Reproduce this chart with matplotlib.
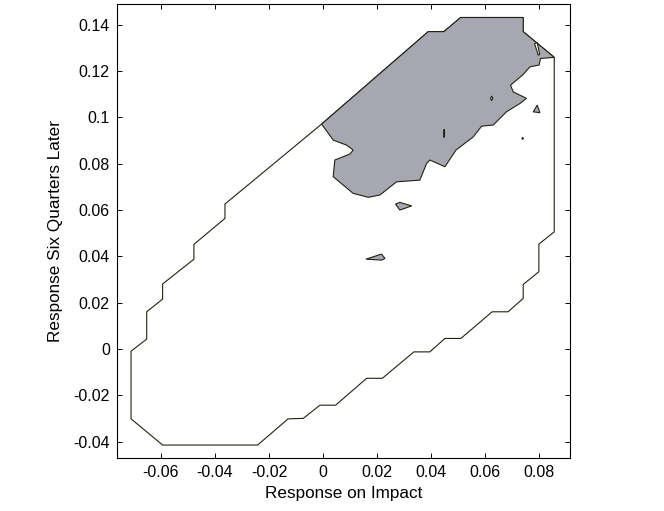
import numpy as np
import matplotlib.pyplot as plt

plt.rcParams['font.family'] = ['Liberation Sans', 'DejaVu Sans']

# outer boundary of the region (response on impact, response six quarters later)
outer_x = [-0.0005, 0.039, 0.0448, 0.051, 0.0742, 0.0742, 0.0857, 0.0857, 0.080, 0.080,
           0.0742, 0.0742, 0.0686, 0.0627, 0.0511, 0.0452, 0.0396, 0.0337, 0.022, 0.0162,
           0.0047, -0.0011, -0.0073, -0.0129, -0.0242, -0.0594, -0.0711, -0.0711, -0.0653,
           -0.0653, -0.0594, -0.0594, -0.0478, -0.0478, -0.0363, -0.0363]
outer_y = [0.0971, 0.137, 0.137, 0.1431, 0.1431, 0.137, 0.1259, 0.0506, 0.0453, 0.0334,
           0.0279, 0.0219, 0.0161, 0.0161, 0.0046, 0.0046, -0.0012, -0.0012, -0.0126, -0.0126,
           -0.0242, -0.0242, -0.0299, -0.0301, -0.0414, -0.0414, -0.0301, -0.0009, 0.0043,
           0.0161, 0.0216, 0.0281, 0.0388, 0.0452, 0.0564, 0.0626]

# shaded region
shade_x = [-0.0005, 0.039, 0.0448, 0.051, 0.0742, 0.0742, 0.0857, 0.0806, 0.0801, 0.0767,
           0.074, 0.0695, 0.0705, 0.0754, 0.073, 0.068, 0.0631, 0.0588, 0.0557, 0.0493,
           0.0452, 0.0396, 0.0384, 0.0359, 0.0273, 0.0211, 0.0168, 0.0112, 0.0038, 0.0044,
           0.01, 0.0112, 0.0088, 0.0038]
shade_y = [0.0971, 0.137, 0.137, 0.1431, 0.1431, 0.137, 0.1259, 0.1254, 0.1226, 0.1218,
           0.1183, 0.1139, 0.111, 0.1082, 0.106, 0.1024, 0.0967, 0.0962, 0.0916, 0.0859,
           0.0787, 0.0816, 0.0801, 0.0729, 0.0722, 0.0665, 0.0655, 0.0672, 0.0744, 0.0816,
           0.0842, 0.0859, 0.088, 0.0902]

# small shaded islands
isl1_x = [0.0269, 0.0285, 0.0329, 0.0285]
isl1_y = [0.0626, 0.0600, 0.0618, 0.0633]
isl2_x = [0.0159, 0.0217, 0.0230, 0.0217]
isl2_y = [0.0388, 0.0410, 0.0391, 0.0384]
isl3_x = [0.0779, 0.0794, 0.0804]
isl3_y = [0.1024, 0.1053, 0.1020]
isl4_x = [0.0737, 0.0740, 0.0743, 0.0740]
isl4_y = [0.0909, 0.0913, 0.0909, 0.0905]

# holes in the shaded region
hole1_x = [0.0784, 0.0794, 0.0803, 0.0798]
hole1_y = [0.1318, 0.1322, 0.1272, 0.1268]
hole2_x = [0.0621, 0.0625, 0.0629, 0.0625]
hole2_y = [0.1082, 0.1092, 0.1082, 0.1072]
hole3_x = [0.0447, 0.0449, 0.0451, 0.0449]
hole3_y = [0.0931, 0.0949, 0.0931, 0.0913]

shade = '#a7a7b2'
edge = '#222211'

fig = plt.figure(figsize=(6.64, 5.11), dpi=100)
ax = fig.add_axes([0.1758, 0.1037, 0.6833, 0.8879])

ax.fill(outer_x, outer_y, facecolor='white', edgecolor=edge, lw=0.8)
ax.fill(shade_x, shade_y, facecolor=shade, edgecolor=edge, lw=0.8)
for xs, ys in [(isl1_x, isl1_y), (isl2_x, isl2_y), (isl3_x, isl3_y), (isl4_x, isl4_y)]:
    ax.fill(xs, ys, facecolor=shade, edgecolor=edge, lw=0.8)
for xs, ys in [(hole1_x, hole1_y), (hole2_x, hole2_y), (hole3_x, hole3_y)]:
    ax.fill(xs, ys, facecolor='white', edgecolor=edge, lw=0.8)

ax.set_xlim(-0.0764, 0.0917)
ax.set_ylim(-0.047, 0.1488)
ax.set_xticks(np.arange(-0.06, 0.081, 0.02))
ax.set_yticks(np.arange(-0.04, 0.141, 0.02))
ax.set_xticklabels(['-0.06', '-0.04', '-0.02', '0', '0.02', '0.04', '0.06', '0.08'])
ax.set_yticklabels(['-0.04', '-0.02', '0', '0.02', '0.04', '0.06', '0.08', '0.1', '0.12', '0.14'])
ax.tick_params(direction='in', top=True, right=True, length=3.5, width=0.7,
               labelsize=11.5, pad=5)
for s in ax.spines.values():
    s.set_linewidth(0.8)

ax.set_xlabel('Response on Impact', fontsize=12.3, labelpad=4)
ax.set_ylabel('Response Six Quarters Later', fontsize=12.3, labelpad=7)

fig.savefig('out.png', dpi=100)
